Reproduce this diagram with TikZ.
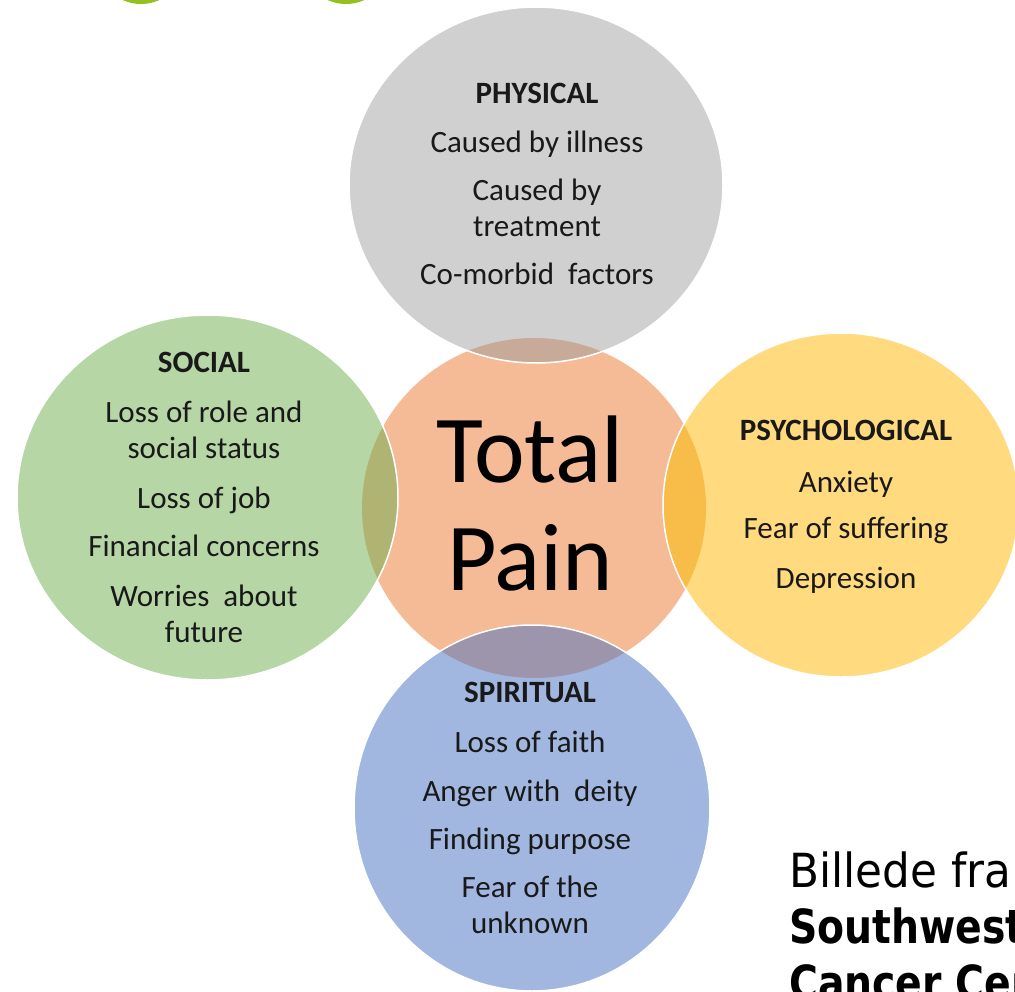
\documentclass[tikz,border=0pt]{standalone}
\usepackage{graphicx}
\usepackage{fontspec}
\setmainfont{Carlito}
\newfontfamily\notefont{DejaVu Sans}[FakeStretch=0.93]

\definecolor{painorange}{HTML}{F4BB96}
\definecolor{physgray}{HTML}{D0D0D0}
\definecolor{socialgreen}{HTML}{B6D6A5}
\definecolor{psychyellow}{HTML}{FFDA7F}
\definecolor{spiritblue}{HTML}{A1B7E0}
\definecolor{graylens}{HTML}{C8AA99}
\definecolor{greenlens}{HTML}{B0B473}
\definecolor{yellowlens}{HTML}{F8BC48}
\definecolor{bluelens}{HTML}{9C95AC}
\definecolor{leafgreen}{HTML}{94C11F}

\newcommand{\narrow}[1]{\scalebox{0.9}[1]{#1}}

\begin{document}
\begin{tikzpicture}[x=1pt, y=-1pt,
                    every node/.style={align=center, text=black!90, inner sep=0pt},
                    ]
    \tikzstyle{item}=[font=\fontsize{31}{36}\selectfont]
    \tikzstyle{big}=[font=\fontsize{96}{108}\selectfont, text=black]
    \tikzstyle{note}=[font=\notefont\fontsize{47}{56}\selectfont, text=black, anchor=base west]
    \tikzstyle{notehead}=[note, font=\notefont\bfseries\fontsize{47}{56}\selectfont]
    \tikzstyle{rim}=[draw=white, line width=1.5pt]

    \useasboundingbox (0,0) rectangle (1015,991);
    \clip (0,0) rectangle (1015,991);

    \fill[leafgreen] (141,-44) ellipse [x radius=46, y radius=48];
    \fill[leafgreen] (346,-44) ellipse [x radius=46, y radius=48];

    \fill[painorange] (534,508) ellipse [x radius=172, y radius=170];

    \fill[physgray] (536,185) ellipse [x radius=187, y radius=178];
    \begin{scope}
        \clip (536,185) ellipse [x radius=187, y radius=178];
        \fill[graylens] (534,508) ellipse [x radius=172, y radius=170];
    \end{scope}
    \path[rim] (536,185) ellipse [x radius=187, y radius=178];

    \fill[socialgreen] (207.5,497.5) ellipse [x radius=190.5, y radius=182.5];
    \begin{scope}
        \clip (207.5,497.5) ellipse [x radius=190.5, y radius=182.5];
        \fill[greenlens] (534,508) ellipse [x radius=172, y radius=170];
    \end{scope}
    \path[rim] (207.5,497.5) ellipse [x radius=190.5, y radius=182.5];

    \fill[psychyellow] (841,505) ellipse [x radius=178, y radius=172];
    \begin{scope}
        \clip (841,505) ellipse [x radius=178, y radius=172];
        \fill[yellowlens] (534,508) ellipse [x radius=172, y radius=170];
    \end{scope}
    \path[rim] (841,505) ellipse [x radius=178, y radius=172];

    \fill[spiritblue] (532,808) ellipse [x radius=178, y radius=183];
    \begin{scope}
        \clip (532,808) ellipse [x radius=178, y radius=183];
        \fill[bluelens] (534,508) ellipse [x radius=172, y radius=170];
    \end{scope}
    \path[rim] (532,808) ellipse [x radius=178, y radius=183];

    \node[big] (total) at (530,504) {Total\\Pain};

    \node[item] (physical) at (537,184)
        {\textbf{PHYSICAL}\\[13pt] Caused by illness\\[12pt] Caused by\\ treatment\\[12pt] Co-morbid\ \ factors};
    \node[item] (social) at (204,497)
        {\textbf{SOCIAL}\\[14pt] Loss of role and\\ social status\\[14pt] Loss of job\\[12pt] Financial concerns\\[14pt] Worries\ \ about\\ future};
    \node[item] (psychological) at (846,507)
        {\textbf{PSYCHOLOGICAL}\\[16pt] Anxiety\\[10pt] Fear of suffering\\[14pt] Depression};
    \node[item] (spiritual) at (530,808)
        {\textbf{SPIRITUAL}\\[14pt] Loss of faith\\[13pt] Anger with\ \ deity\\[12pt] Finding purpose\\[12pt] Fear of the\\ unknown};

    \node[note] (credit) at (789,887) {Billede fra};
    \node[notehead] (source) at (789,943) {\narrow{Southwest}};
    \node[notehead] (centre) at (789,999) {\narrow{Cancer Center}};
\end{tikzpicture}
\end{document}
